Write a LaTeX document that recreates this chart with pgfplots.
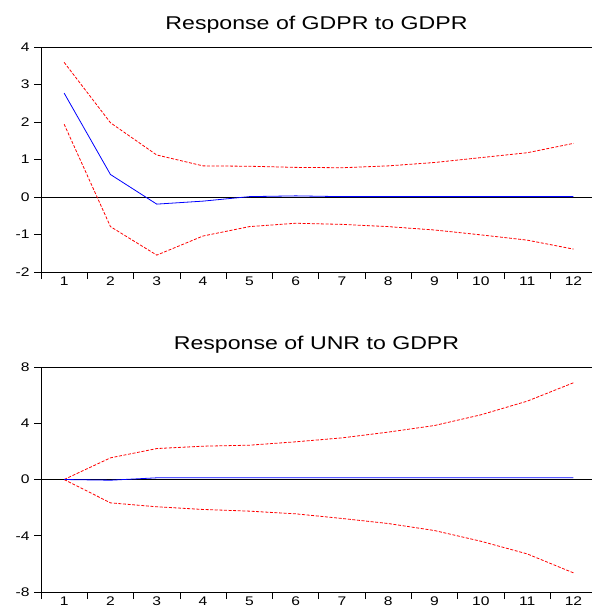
\documentclass[border=0pt]{standalone}
\usepackage{fontspec}
\setmainfont{Liberation Sans}[FakeStretch=1.25]
\usepackage{pgfplots}
\pgfplotsset{compat=1.18}

\definecolor{irfblue}{RGB}{0,0,255}
\definecolor{irfred}{RGB}{255,0,0}

\pgfplotsset{
  irf/.style={
    scale only axis,
    width=551pt, height=225pt,
    xmin=0.5, xmax=12.4,
    axis y line*=left,
    axis x line*=box,
    xtick pos=left,
    ytick pos=left,
    tick align=outside,
    major tick length=7pt,
    axis line style={line width=0.9pt},
    every tick/.style={black, line width=0.8pt},
    xtick={0.5,1.5,...,11.5},
    xticklabels={},
    extra x ticks={1,2,...,12},
    extra x tick style={major tick length=0pt},
    /pgf/number format/assume math mode=true,
    ticklabel style={font=\fontsize{12.5}{14}\selectfont},
    xticklabel style={yshift=-1pt},
    yticklabel style={xshift=-1pt},
    title style={font=\fontsize{18.5}{20}\selectfont, yshift=4pt},
    clip=false,
  },
  band/.style={irfred, line width=0.8pt, dash pattern=on 3pt off 1.6pt},
  resp/.style={irfblue, line width=0.8pt},
}

\begin{document}
\begin{tikzpicture}[x=1pt,y=1pt]
\path[use as bounding box] (0,0) rectangle (592,-612);

% top panel
\begin{axis}[irf, at={(41pt,-47pt)}, anchor=north west,
    ymin=-2, ymax=4, ytick={-2,-1,0,1,2,3,4},
    title={Response of GDPR to GDPR}]
\addplot[black, line width=0.8pt] coordinates {(0.5,0) (12.4,0)};
\addplot[band] coordinates {
  (1,3.59) (2,1.98) (3,1.12) (4,0.83) (5,0.82) (6,0.79)
  (7,0.78) (8,0.83) (9,0.92) (10,1.05) (11,1.18) (12,1.43)};
\addplot[band] coordinates {
  (1,1.94) (2,-0.79) (3,-1.55) (4,-1.04) (5,-0.79) (6,-0.70)
  (7,-0.73) (8,-0.79) (9,-0.88) (10,-1.01) (11,-1.15) (12,-1.39)};
\addplot[resp] coordinates {
  (1,2.77) (2,0.60) (3,-0.19) (4,-0.11) (5,0.01) (6,0.03)
  (7,0.01) (8,0.01) (9,0.01) (10,0.01) (11,0.01) (12,0.01)};
\end{axis}

% bottom panel
\begin{axis}[irf, at={(41pt,-367pt)}, anchor=north west,
    ymin=-8, ymax=8, ytick={-8,-4,0,4,8},
    title={Response of UNR to GDPR}]
\addplot[black, line width=0.8pt] coordinates {(0.5,0) (12.4,0)};
\addplot[band] coordinates {
  (1,0) (2,1.54) (3,2.20) (4,2.37) (5,2.44) (6,2.68)
  (7,2.96) (8,3.37) (9,3.84) (10,4.60) (11,5.57) (12,6.88)};
\addplot[band] coordinates {
  (1,0) (2,-1.66) (3,-1.94) (4,-2.13) (5,-2.25) (6,-2.44)
  (7,-2.77) (8,-3.13) (9,-3.63) (10,-4.39) (11,-5.29) (12,-6.64)};
\addplot[resp] coordinates {
  (1,0) (2,-0.05) (3,0.12) (4,0.12) (5,0.12) (6,0.12)
  (7,0.12) (8,0.12) (9,0.12) (10,0.12) (11,0.12) (12,0.12)};
\end{axis}
\end{tikzpicture}
\end{document}
